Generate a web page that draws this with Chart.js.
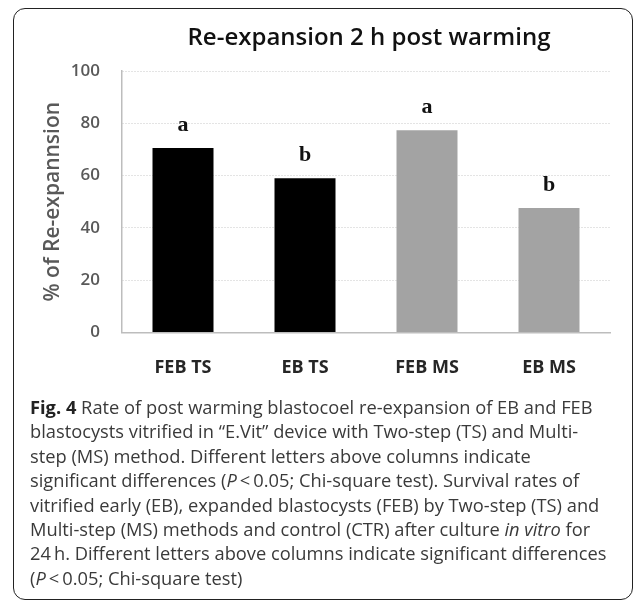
<!DOCTYPE html>
<html>
<head>
<meta charset="utf-8">
<script src="https://cdn.jsdelivr.net/npm/chart.js@4/dist/chart.umd.min.js"></script>
<style>
  html, body { margin: 0; padding: 0; background: #fff; }
  body { width: 634px; height: 605px; position: relative; overflow: hidden; }
  #frame {
    position: absolute; left: 13px; top: 8px; width: 620px; height: 592px;
    border: 1.5px solid #222; border-radius: 12px; box-sizing: border-box;
  }
  #chart { position: absolute; left: 0; top: 0; }
  #caption {
    position: absolute; left: 30px; top: 395px;
    font-family: "Open Sans", sans-serif; font-size: 18.3px; line-height: 24.4px;
    color: #3a3a3a; white-space: nowrap;
  }
  #caption b { color: #222; }
</style>
</head>
<body>
<div id="frame"></div>
<canvas id="chart" width="634" height="404"></canvas>
<div id="caption">
<b>Fig. 4</b> Rate of post warming blastocoel re-expansion of EB and FEB<br>
blastocysts vitrified in “E.Vit” device with Two-step (TS) and Multi-<br>
step (MS) method. Different letters above columns indicate<br>
significant differences (<i>P</i>&thinsp;&lt;&thinsp;0.05; Chi-square test). Survival rates of<br>
vitrified early (EB), expanded blastocysts (FEB) by Two-step (TS) and<br>
Multi-step (MS) methods and control (CTR) after culture <i>in vitro</i> for<br>
24&thinsp;h. Different letters above columns indicate significant differences<br>
(<i>P</i>&thinsp;&lt;&thinsp;0.05; Chi-square test)
</div>
<script>
// values
const categories = ['FEB TS', 'EB TS', 'FEB MS', 'EB MS'];
const reexpansion = [70.5, 59, 77.3, 47.6];
const sigLetters = ['a', 'b', 'a', 'b'];
const yTicks = [0, 20, 40, 60, 80, 100];
const chartTitle = 'Re-expansion 2 h post warming';

// letters above the columns + the title (centred like the original, not over the canvas)
const annotatePlugin = {
  id: 'annotate',
  afterDatasetsDraw(chart) {
    const ctx = chart.ctx;
    const meta = chart.getDatasetMeta(0);
    ctx.save();
    ctx.font = 'bold 22px "Liberation Serif", "DejaVu Serif", serif';
    ctx.fillStyle = '#111';
    ctx.textAlign = 'center';
    ctx.textBaseline = 'alphabetic';
    meta.data.forEach((bar, i) => {
      ctx.fillText(sigLetters[i], bar.x, bar.y - 17);
    });
    ctx.font = '600 24px "Open Sans", sans-serif';
    ctx.fillText(chartTitle, 369, 45);
    ctx.restore();
  }
};

new Chart(document.getElementById('chart'), {
  type: 'bar',
  data: {
    labels: categories,
    datasets: [{
      data: reexpansion,
      backgroundColor: (c) => c.dataIndex < 2 ? '#000000' : '#a3a3a3',
      barPercentage: 0.5,
      categoryPercentage: 1.0
    }]
  },
  options: {
    responsive: false,
    animation: false,
    layout: { padding: { left: 0, right: 24, top: 71, bottom: 0 } },
    plugins: {
      legend: { display: false },
      tooltip: { enabled: false },
      title: { display: false }
    },
    scales: {
      x: {
        grid: { display: false, drawTicks: false },
        border: { display: true, color: '#bdbdbd', width: 1.5 },
        ticks: {
          color: '#262626',
          padding: 25,
          font: { family: '"Open Sans", sans-serif', size: 18, weight: 'bold' }
        }
      },
      y: {
        min: 0, max: 100,
        afterFit: (s) => { s.width = 122; },
        afterBuildTicks: (s) => { s.ticks = yTicks.map(v => ({ value: v })); },
        grid: { color: '#c8c8c8', lineWidth: 1, drawTicks: false },
        border: { display: true, color: '#bdbdbd', width: 1.5, dash: [1, 2] },
        ticks: {
          color: '#595959',
          padding: 22,
          font: { family: '"Open Sans", sans-serif', size: 17, weight: '600' }
        },
        title: {
          display: true,
          text: '% of Re-expannsion',
          color: '#595959',
          font: { family: '"Open Sans", sans-serif', size: 21, weight: '600' },
          padding: { top: 40, bottom: 0 }
        }
      }
    }
  },
  plugins: [annotatePlugin]
});
</script>
</body>
</html>
